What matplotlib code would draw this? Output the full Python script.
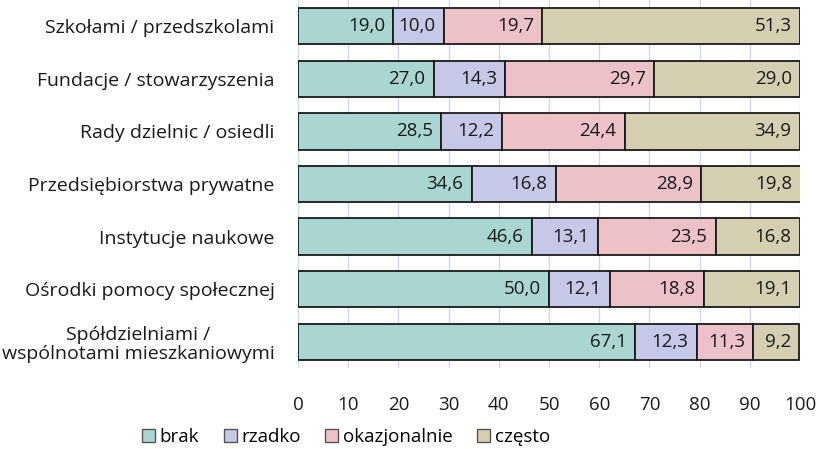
import matplotlib
matplotlib.use("Agg")
import matplotlib.pyplot as plt
from matplotlib.patches import Patch

plt.rcParams['font.family'] = ['Open Sans', 'DejaVu Sans']

categories = ["Szkołami / przedszkolami", "Fundacje / stowarzyszenia", "Rady dzielnic / osiedli",
              "Przedsiębiorstwa prywatne", "Instytucje naukowe", "Ośrodki pomocy społecznej",
              "Spółdzielniami /\nwspólnotami mieszkaniowymi"]
brak = [19.0, 27.0, 28.5, 34.6, 46.6, 50.0, 67.1]
rzadko = [10.0, 14.3, 12.2, 16.8, 13.1, 12.1, 12.3]
okazjonalnie = [19.7, 29.7, 24.4, 28.9, 23.5, 18.8, 11.3]
czesto = [51.3, 29.0, 34.9, 19.8, 16.8, 19.1, 9.2]
series_names = ["brak", "rzadko", "okazjonalnie", "często"]
colors = ["#A9D6D0", "#C5C8E6", "#ECC1C7", "#D4CFB0"]
xticks = [0, 10, 20, 30, 40, 50, 60, 70, 80, 90, 100]

FS = 13.5
fig = plt.figure(figsize=(8.21, 4.49), dpi=100)
ax = fig.add_axes([298/821, 1 - 368/449, 502/821, 368/449])

series = [brak, rzadko, okazjonalnie, czesto]
y = list(range(len(categories)))
left = [0.0] * len(categories)
for vals, col in zip(series, colors):
    ax.barh(y, vals, left=left, height=0.69, color=col, edgecolor="#1a1a1a", linewidth=1.3, zorder=3)
    for i, v in enumerate(vals):
        ax.annotate(f"{v:.1f}".replace(".", ","), xy=(left[i] + v, y[i]), xytext=(-6, 0),
                    textcoords="offset points", ha="right", va="center",
                    fontsize=FS, color="#1a1a1a", zorder=4, annotation_clip=False)
    left = [l + v for l, v in zip(left, vals)]

ax.set_xlim(0, 100)
ax.set_ylim(6.5, -0.5)
ax.set_xticks(xticks)
ax.set_xticklabels([str(t) for t in xticks], fontsize=FS, color="#1a1a1a")
ax.set_yticks(y)
ax.set_yticklabels(categories, fontsize=14, color="#1a1a1a", multialignment="center",
                   linespacing=1.1)
ax.tick_params(axis="y", length=0, pad=17)
ax.tick_params(axis="x", length=0, pad=20)
ax.grid(axis="x", color="#C8D9EC", linewidth=1.0, zorder=0)
for s in ax.spines.values():
    s.set_visible(False)

handles = [Patch(facecolor=c, edgecolor="#555555", linewidth=1.0) for c in colors]
fig.legend(handles, series_names, loc="center", bbox_to_anchor=(346/821, 1 - 437/449), ncol=4,
           frameon=False, fontsize=FS, handlelength=0.7, handleheight=0.7, handletextpad=0.25,
           columnspacing=1.3)

fig.savefig("out.png", dpi=100)
